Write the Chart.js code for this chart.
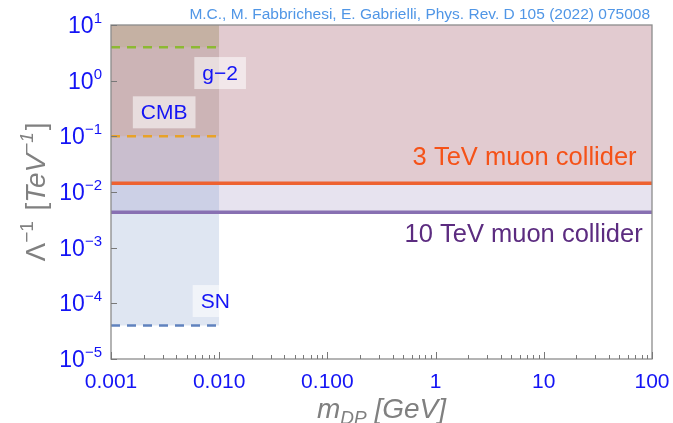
<!DOCTYPE html>
<html>
<head>
<meta charset="utf-8">
<script src="https://cdn.jsdelivr.net/npm/chart.js@4/dist/chart.umd.min.js"></script>
<style>
  html, body { margin: 0; padding: 0; background: #ffffff; }
  #wrap { width: 673px; height: 423px; }
</style>
</head>
<body>
<div id="wrap"><canvas id="c" width="673" height="423"></canvas></div>
<script>
// Dark-photon mass range (GeV) and coupling bounds Λ^-1 (TeV^-1)
const massRange = [0.001, 100];
const lowMassRange = [0.001, 0.01];

const colliderLabels = ['3 TeV muon collider', '10 TeV muon collider'];
const colliderReach = [0.0144, 0.00434];
const colliderLabelMass = [72, 82];
const colliderLabelCoupling = [0.041, 0.0017];

const boundLabels = ['SN', 'CMB', 'g−2'];
const boundValues = [4e-5, 0.1, 4];
const boundLabelMass = [0.0092, 0.0031, 0.0102];
const boundLabelCoupling = [1.1e-4, 0.27, 1.37];

const xTickValues = [0.001, 0.01, 0.1, 1, 10, 100];
const xTickLabels = ['0.001', '0.010', '0.100', '1', '10', '100'];
const yTickExponents = [-5, -4, -3, -2, -1, 0, 1];

const reference = 'M.C., M. Fabbrichesi, E. Gabrielli, Phys. Rev. D 105 (2022) 075008';

const FONT = '"Liberation Sans", Arial, Helvetica, sans-serif';
const TICK_BLUE = 'rgb(20,20,245)';
const AXIS_GREY = 'rgb(128,128,128)';

function hline(range, value) {
  return [{ x: range[0], y: value }, { x: range[1], y: value }];
}

// Draws a sequence of text runs (for super/subscripts) on one baseline
function drawRuns(ctx, runs, x, y, align) {
  let total = 0;
  runs.forEach(r => {
    ctx.font = (r.italic ? 'italic ' : '') + r.size + 'px ' + FONT;
    r.w = ctx.measureText(r.text).width + (r.gap || 0);
    total += r.w;
  });
  let cx = align === 'center' ? x - total / 2 : align === 'right' ? x - total : x;
  ctx.textAlign = 'left';
  ctx.textBaseline = 'alphabetic';
  runs.forEach(r => {
    ctx.font = (r.italic ? 'italic ' : '') + r.size + 'px ' + FONT;
    ctx.fillText(r.text, cx, y + (r.shift || 0));
    cx += r.w;
  });
}

function expText(e) {
  return e < 0 ? '−' + (-e) : String(e);
}

const frameAndLabels = {
  id: 'frameAndLabels',
  afterDatasetsDraw(chart) {
    const { ctx, chartArea: a, scales: { x, y } } = chart;
    ctx.save();

    // boxed labels for the low-mass bounds
    ctx.font = '21px ' + FONT;
    boundLabels.forEach((t, i) => {
      const px = x.getPixelForValue(boundLabelMass[i]);
      const py = y.getPixelForValue(boundLabelCoupling[i]);
      const w = ctx.measureText(t).width + 16;
      const h = 32;
      ctx.fillStyle = 'rgba(255,255,255,0.55)';
      ctx.fillRect(px - w / 2, py - h / 2, w, h);
      ctx.fillStyle = TICK_BLUE;
      ctx.textAlign = 'center';
      ctx.textBaseline = 'middle';
      ctx.fillText(t, px, py + 1);
    });

    // collider reach labels
    const colliderText = ['rgb(245,82,24)', 'rgb(92,44,128)'];
    ctx.font = '25.5px ' + FONT;
    ctx.textAlign = 'right';
    ctx.textBaseline = 'middle';
    colliderLabels.forEach((t, i) => {
      ctx.fillStyle = colliderText[i];
      ctx.fillText(t, x.getPixelForValue(colliderLabelMass[i]), y.getPixelForValue(colliderLabelCoupling[i]));
    });

    // frame
    ctx.strokeStyle = 'rgb(140,140,140)';
    ctx.lineWidth = 1.3;
    ctx.strokeRect(a.left, a.top, a.right - a.left, a.bottom - a.top);

    // inward ticks on the mass axis (decades and their subdivisions)
    ctx.lineWidth = 1;
    ctx.strokeStyle = 'rgb(120,120,120)';
    for (let e = -3; e <= 2; e++) {
      for (let m = 1; m <= 9; m++) {
        const v = m * Math.pow(10, e);
        if (v > massRange[1] * 1.0001) break;
        const px = Math.round(x.getPixelForValue(v)) + 0.5;
        const len = m === 1 ? 7 : 4;
        ctx.beginPath();
        ctx.moveTo(px, a.bottom);
        ctx.lineTo(px, a.bottom - len);
        ctx.stroke();
      }
    }
    // inward ticks on the coupling axis
    yTickExponents.forEach(e => {
      const py = Math.round(y.getPixelForValue(Math.pow(10, e))) + 0.5;
      ctx.beginPath();
      ctx.moveTo(a.left, py);
      ctx.lineTo(a.left + 6, py);
      ctx.stroke();
    });

    // tick labels
    ctx.fillStyle = TICK_BLUE;
    ctx.font = '21px ' + FONT;
    ctx.textAlign = 'center';
    ctx.textBaseline = 'alphabetic';
    xTickValues.forEach((v, i) => {
      ctx.fillText(xTickLabels[i], x.getPixelForValue(v), a.bottom + 29);
    });
    yTickExponents.forEach(e => {
      const py = y.getPixelForValue(Math.pow(10, e));
      drawRuns(ctx, [
        { text: '10', size: 23 },
        { text: expText(e), size: 15, shift: -10 }
      ], a.left - 9, py + 8, 'right');
    });

    // axis titles
    ctx.fillStyle = AXIS_GREY;
    drawRuns(ctx, [
      { text: 'm', size: 28, italic: true },
      { text: 'DP', size: 19, italic: true, shift: 6 },
      { text: ' [GeV]', size: 28, italic: true }
    ], (a.left + a.right) / 2, 418, 'center');

    ctx.save();
    ctx.translate(45, 192);
    ctx.rotate(-Math.PI / 2);
    drawRuns(ctx, [
      { text: 'Λ', size: 28 },
      { text: '−1', size: 19, shift: -12, gap: 3 },
      { text: ' [', size: 28 },
      { text: 'TeV', size: 28, italic: true },
      { text: '−1', size: 19, italic: true, shift: -12, gap: 2 },
      { text: ']', size: 28 }
    ], 0, 0, 'center');
    ctx.restore();

    // reference line
    ctx.fillStyle = 'rgb(80,150,230)';
    ctx.font = '15.5px ' + FONT;
    ctx.textAlign = 'right';
    ctx.textBaseline = 'alphabetic';
    ctx.fillText(reference, a.right - 2, 19);

    ctx.restore();
  }
};

new Chart(document.getElementById('c'), {
  type: 'line',
  data: {
    datasets: [
      {
        label: colliderLabels[0],
        data: hline(massRange, colliderReach[0]),
        borderColor: 'rgb(238,98,48)',
        borderWidth: 3.5,
        backgroundColor: 'rgb(226,203,208)',
        fill: 'end',
        order: 10
      },
      {
        label: colliderLabels[1],
        data: hline(massRange, colliderReach[1]),
        borderColor: 'rgb(136,112,178)',
        borderWidth: 3.5,
        backgroundColor: 'rgb(231,227,239)',
        fill: 0,
        order: 10
      },
      {
        label: boundLabels[0],
        data: hline(lowMassRange, boundValues[0]),
        borderColor: 'rgb(96,130,190)',
        borderWidth: 2.5,
        borderDash: [9, 7],
        backgroundColor: 'rgba(120,150,200,0.24)',
        fill: 'end',
        order: 5
      },
      {
        label: boundLabels[1],
        data: hline(lowMassRange, boundValues[1]),
        borderColor: 'rgb(232,162,40)',
        borderWidth: 2.5,
        borderDash: [9, 7],
        backgroundColor: 'rgba(220,140,80,0.18)',
        fill: 'end',
        order: 4
      },
      {
        label: boundLabels[2],
        data: hline(lowMassRange, boundValues[2]),
        borderColor: 'rgb(140,185,50)',
        borderWidth: 2.5,
        borderDash: [9, 7],
        backgroundColor: 'rgba(160,160,60,0.15)',
        fill: 'end',
        order: 3
      }
    ]
  },
  options: {
    responsive: false,
    animation: false,
    layout: { padding: { top: 25, right: 21, left: 0, bottom: 0 } },
    elements: { point: { radius: 0 }, line: { tension: 0 } },
    plugins: {
      legend: { display: false },
      tooltip: { enabled: false },
      filler: { drawTime: 'beforeDatasetsDraw' }
    },
    scales: {
      x: {
        type: 'logarithmic',
        min: massRange[0],
        max: massRange[1],
        grid: { display: false },
        border: { display: false },
        ticks: { display: false },
        afterFit(s) { s.height = 64; }
      },
      y: {
        type: 'logarithmic',
        min: 1e-5,
        max: 10,
        grid: { display: false },
        border: { display: false },
        ticks: { display: false },
        afterFit(s) { s.width = 111; }
      }
    }
  },
  plugins: [frameAndLabels]
});
</script>
</body>
</html>
